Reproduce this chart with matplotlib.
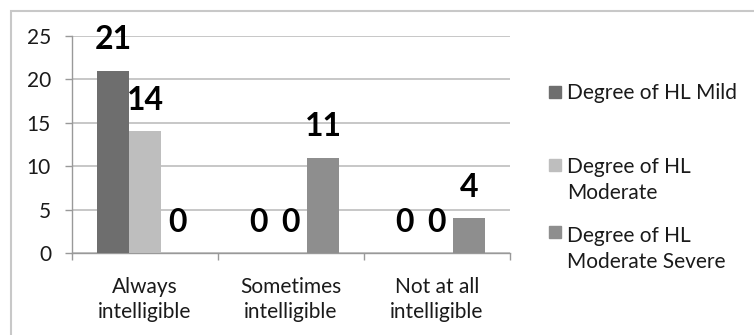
import matplotlib
matplotlib.use("Agg")
import matplotlib.pyplot as plt
import numpy as np
from matplotlib.patches import Rectangle

categories = ["Always\nintelligible", "Sometimes\nintelligible", "Not at all\nintelligible"]
series_names = ["Degree of HL Mild", "Degree of HL\nModerate", "Degree of HL\nModerate Severe"]
mild = [21, 0, 0]
moderate = [14, 0, 0]
moderate_severe = [0, 11, 4]
y_ticks = [0, 5, 10, 15, 20, 25]

colors = ["#6e6e6e", "#bebebe", "#8e8e8e"]
series = [mild, moderate, moderate_severe]

plt.rcParams["font.family"] = ["Lato", "DejaVu Sans"]

W, H = 754, 335
PX = 72 / 100  # points per pixel at dpi 100
fig = plt.figure(figsize=(W / 100, H / 100), dpi=100)
fig.patch.set_facecolor("white")

# outer chart frame
fig.add_artist(Rectangle((11 / W, -0.05), 1.0, 1 - 11 / H + 0.05,
                         transform=fig.transFigure, fill=False,
                         edgecolor="#c8c8c8", linewidth=1.5))

left, right, top, bottom = 72, 510, 36, 253
ax = fig.add_axes([left / W, 1 - bottom / H, (right - left) / W, (bottom - top) / H])

x = np.arange(len(categories))
bw = 0.22
for i, (vals, c, name) in enumerate(zip(series, colors, series_names)):
    pos = x + (i - 1) * bw
    ax.bar(pos, vals, width=bw, color=c, label=name, zorder=3)
    for p, v in zip(pos, vals):
        ax.annotate(str(v), (p, v), xytext=(0, 31 * PX), textcoords="offset points",
                    ha="center", va="center", fontsize=23, fontweight="bold",
                    color="black", zorder=4)

ax.set_xlim(-0.5, 2.5)
ax.set_ylim(0, 25)
ax.set_yticks(y_ticks)
ax.set_yticklabels([str(t) for t in y_ticks], fontsize=15, color="#1a1a1a")
ax.yaxis.grid(True, color="#bdbdbd", linewidth=1.2, zorder=0)
ax.set_axisbelow(True)

ax.set_xticks(x)
ax.set_xticklabels(categories, fontsize=15, linespacing=1.3, color="#1a1a1a")
ax.tick_params(axis="x", length=0, pad=24 * PX)
ax.set_xticks([-0.5, 0.5, 1.5, 2.5], minor=True)
ax.tick_params(axis="x", which="minor", length=7 * PX, color="#999999", width=1)
ax.tick_params(axis="y", length=7 * PX, color="#999999", width=1, pad=14 * PX)

for s in ["top", "right"]:
    ax.spines[s].set_visible(False)
for s in ["left", "bottom"]:
    ax.spines[s].set_color("#999999")
    ax.spines[s].set_linewidth(1)

# legend entries on the right: (square centre y, baselines of each text line)
legend_layout = [(92, [99]), (165, [173, 199]), (232, [242, 268])]
for name, c, (sq_y, baselines) in zip(series_names, colors, legend_layout):
    fig.add_artist(Rectangle((549 / W, 1 - (sq_y + 6) / H), 12 / W, 12 / H,
                             transform=fig.transFigure, color=c))
    for line, b in zip(name.split("\n"), baselines):
        fig.text(567 / W, 1 - b / H, line, fontsize=15, va="baseline",
                 ha="left", color="#1a1a1a")

fig.savefig("out.png", dpi=100, facecolor="white")
